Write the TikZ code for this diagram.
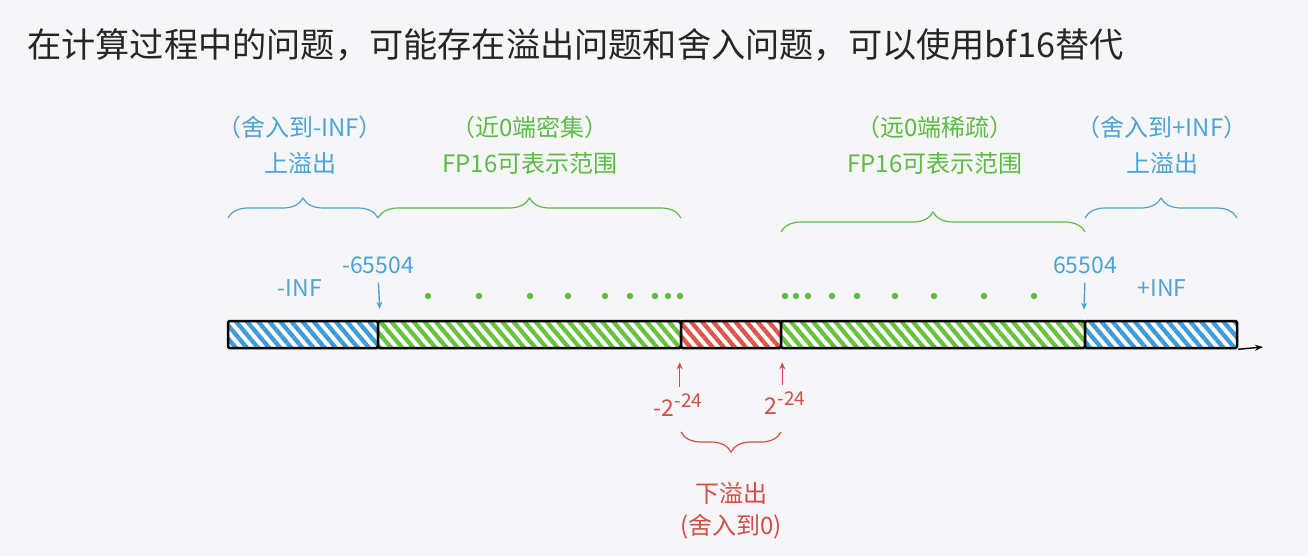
\documentclass[tikz,border=0pt]{standalone}
\usepackage{fontspec}
\setmainfont{Noto Sans CJK SC}
\usetikzlibrary{patterns.meta,decorations.pathreplacing,arrows.meta}
\definecolor{bg}{HTML}{F6F6F8}
\definecolor{ovblue}{HTML}{3F9BD8}
\definecolor{fpgreen}{HTML}{68C23F}
\definecolor{ufred}{HTML}{DE5549}
\definecolor{txtblue}{HTML}{4DA2D6}
\definecolor{txtgreen}{HTML}{5DBB45}
\definecolor{txtred}{HTML}{D44C46}
\newcommand{\expo}[1]{\raisebox{0.42em}{\fontsize{19}{20}\selectfont #1}}
\tikzset{
  seg/.style={draw=black,line width=2.5pt,inner sep=0pt,minimum height=27pt,rounded corners=1.5pt,
    preaction={fill=white},pattern={Lines[angle=-50,distance=8.5pt,line width=4.3pt]},pattern color=#1},
  lbl/.style={inner sep=0pt,text=#1,font=\fontsize{24}{28}\selectfont},
  num/.style={inner sep=0pt,text=#1,font=\fontsize{23}{27}\selectfont},
  brc/.style={draw=#1,line width=1.2pt,decorate,decoration={brace,amplitude=20pt}},
  mark/.style={draw=#1,line width=1.4pt,-{Stealth[length=7pt,width=6pt]}}
}
\begin{document}
\begin{tikzpicture}[x=1pt,y=-1pt]
			\fill[bg] (0,0) rectangle (1308,556);
			\useasboundingbox (0,0) rectangle (1308,556);

			\node[anchor=west,inner sep=0pt,text=black!85,font=\fontsize{34.2}{40}\selectfont] (title) at (27,45) {在计算过程中的问题，可能存在溢出问题和舍入问题，可以使用bf16替代};

			\node[seg=ovblue,minimum width=150pt] (neginf) at (303,334.5) {};
			\node[seg=fpgreen,minimum width=303pt] (negrange) at (529.5,334.5) {};
			\node[seg=ufred,minimum width=100pt] (under) at (731,334.5) {};
			\node[seg=fpgreen,minimum width=304pt] (posrange) at (933,334.5) {};
			\node[seg=ovblue,minimum width=152pt] (posinf) at (1161,334.5) {};
			\coordinate (axisend) at (1263,347);
			\draw[line width=1.4pt,-{Stealth[length=8pt,width=6pt]}] (posinf.south east) -- (axisend);

			\foreach \x in {428,479,530,568,605,630,655,668,680}
				\fill[txtgreen] (\x,296) circle (3.2pt);
			\foreach \x in {785,796,808,832,857,895,934,984,1034}
				\fill[txtgreen] (\x,296) circle (3.2pt);

			\node[num=txtblue] (ninf) at (300,288) {-INF};
			\node[num=txtblue] (nmax) at (378,265) {-65504};
			\node[num=txtblue] (pmax) at (1085,265) {65504};
			\node[num=txtblue] (pinf) at (1162,288) {+INF};
			\draw[mark=txtblue,shorten <=9pt,shorten >=10pt] (nmax.south) -- (neginf.north east);
			\draw[mark=txtblue,shorten <=9pt,shorten >=10pt] (pmax.south) -- (posinf.north west);

			\node[num=txtred] (nmin) at (678,405) {-2\expo{-24}};
			\node[num=txtred] (pmin) at (785,403) {2\expo{-24}};
			\draw[mark=txtred,shorten <=6pt,shorten >=13pt] (nmin.north -| under.south west) -- (under.south west);
			\draw[mark=txtred,shorten <=6pt,shorten >=13pt] (pmin.north -| under.south east) -- (under.south east);

			\draw[brc=txtblue] (228,218) -- (378,218);
			\draw[brc=txtgreen] (378,218) -- (681,218);
			\draw[brc=txtgreen] (781,232) -- (1085,232);
			\draw[brc=txtblue] (1085,218) -- (1237,218);
			\draw[brc=txtred] (781,432) -- (681,432);

			\node[lbl=txtblue] (lownote) at (300,127) {（舍入到-INF）};
			\node[lbl=txtblue] (lowover) at (300,163) {上溢出};
			\node[lbl=txtgreen] (densenote) at (530,127) {（近0端密集）};
			\node[lbl=txtgreen] (denserange) at (530,163) {FP16可表示范围};
			\node[lbl=txtgreen] (sparsenote) at (935,127) {（远0端稀疏）};
			\node[lbl=txtgreen] (sparserange) at (935,163) {FP16可表示范围};
			\node[lbl=txtblue] (highnote) at (1162,127) {（舍入到+INF）};
			\node[lbl=txtblue] (highover) at (1162,163) {上溢出};
			\node[lbl=txtred] (underflow) at (731,493) {下溢出};
			\node[lbl=txtred] (undernote) at (731,527) {(舍入到0)};
		\end{tikzpicture}
\end{document}
